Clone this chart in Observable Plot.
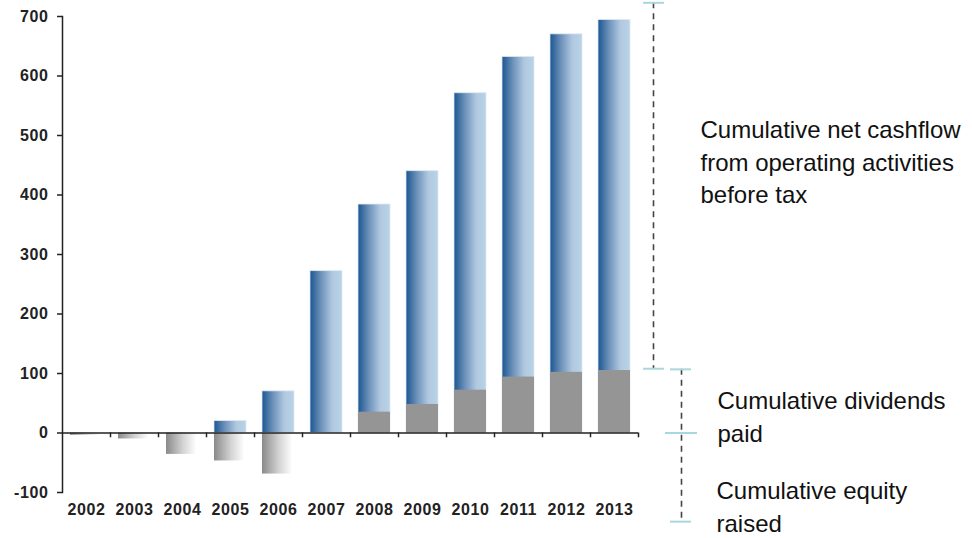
<!DOCTYPE html>
<html><head><meta charset="utf-8">
<script src="https://cdn.jsdelivr.net/npm/d3@7"></script>
<script src="https://cdn.jsdelivr.net/npm/@observablehq/plot@0.6"></script>
<style>
body{margin:0;background:#fff;}
#chart svg{display:block;}
#chart g[aria-label="y-axis tick label"] text, #chart g[aria-label="x-axis tick label"] text{letter-spacing:0.6px;}
</style>
</head><body><div id="chart"></div>
<script>
const years = ["2002","2003","2004","2005","2006","2007","2008","2009","2010","2011","2012","2013"];
const cashflow = [0, 0, 0, 20, 70, 272, 384, 440, 571, 632, 670, 694];
const dividends = [0, 0, 0, 0, 0, 0, 35, 48, 72, 94, 102, 105];
const equity = [-4, -10, -36, -47, -69, 0, 0, 0, 0, 0, 0, 0];
const yTicks = [-100, 0, 100, 200, 300, 400, 500, 600, 700];

// annotation brackets (values in chart units)
const bracketCash = [{from: 723, to: 108}];
const bracketLower = [{from: 107, to: -149}];
const tickCash = [723, 108];
const tickLowerEnds = [107, -149];
const tickLowerMid = [0];
const labelCash = [{y: 458, text: "Cumulative net cashflow\nfrom operating activities\nbefore tax"}];
const labelDiv = [{y: 30, text: "Cumulative dividends\npaid"}];
const labelEq = [{y: -121, text: "Cumulative equity\nraised"}];

const cashRows = years.map((y, i) => ({year: y, value: cashflow[i]})).filter(d => d.value !== 0);
const divRows = years.map((y, i) => ({year: y, value: dividends[i]})).filter(d => d.value !== 0);
const eqRows = years.map((y, i) => ({year: y, value: equity[i]})).filter(d => d.value !== 0);

const last = years[years.length - 1];
const dash = {stroke: "#444", strokeWidth: 1.6, strokeDasharray: "6,5"};
const tickStyle = {stroke: "#a8d8de", strokeWidth: 2};
const textStyle = {fontSize: 24, fill: "#111", textAnchor: "start", lineAnchor: "middle", lineHeight: 1.35, fontFamily: "Liberation Sans, Arial, sans-serif"};

const chart = Plot.plot({
  width: 972, height: 538,
  marginLeft: 62, marginRight: 334, marginTop: 16, marginBottom: 46,
  x: {type: "band", domain: years, paddingInner: 0.33, paddingOuter: 0.165, axis: null, label: null},
  y: {domain: [-100, 700], axis: null, label: null},
  style: {fontFamily: "Liberation Sans, Arial, sans-serif", background: "#fff"},
  marks: [
    Plot.barY(cashRows, {x: "year", y: "value", fill: "url(#gBlue)", stroke: "#dce8f2", strokeWidth: 0.8}),
    Plot.barY(divRows, {x: "year", y: "value", fill: "#959595"}),
    Plot.barY(eqRows, {x: "year", y: "value", fill: "url(#gGrey)"}),
    Plot.ruleY([0], {stroke: "#222", strokeWidth: 1.5}),
    Plot.ruleX(years, {x: d => d, y1: 0, y2: -8, dx: 24, stroke: "#222", strokeWidth: 1.5}),
    Plot.frame({anchor: "left", stroke: "#222", strokeWidth: 1.5}),
    Plot.axisY({ticks: yTicks, tickFormat: d => String(d), label: null, tickSize: 5, tickPadding: 9, fontWeight: "bold", fontSize: 16, stroke: "#222", strokeWidth: 1.5, fill: "#222"}),
    Plot.axisX({tickSize: 0, tickPadding: 11, label: null, fontWeight: "bold", fontSize: 16, fill: "#222"}),
    // annotations
    Plot.ruleX(bracketCash, {x: () => last, y1: "from", y2: "to", dx: 39, ...dash}),
    Plot.ruleX(bracketLower, {x: () => last, y1: "from", y2: "to", dx: 67, ...dash}),
    Plot.tickY(tickCash, {x: () => last, y: d => d, dx: 39.5, insetLeft: 5.5, insetRight: 5.5, ...tickStyle}),
    Plot.tickY(tickLowerEnds, {x: () => last, y: d => d, dx: 66.5, insetLeft: 5.5, insetRight: 5.5, ...tickStyle}),
    Plot.tickY(tickLowerMid, {x: () => last, y: d => d, dx: 67, insetLeft: 0, insetRight: 0, ...tickStyle}),
    Plot.text(labelCash, {x: () => last, y: "y", text: "text", dx: 86, ...textStyle}),
    Plot.text(labelDiv, {x: () => last, y: "y", text: "text", dx: 103, ...textStyle}),
    Plot.text(labelEq, {x: () => last, y: "y", text: "text", dx: 102, ...textStyle})
  ]
});

const svg = d3.select(chart);
const defs = svg.insert("defs", ":first-child");
const gb = defs.append("linearGradient").attr("id", "gBlue").attr("x1", "0").attr("x2", "1").attr("y1", "0").attr("y2", "0");
gb.append("stop").attr("offset", "0%").attr("stop-color", "#1b5592");
gb.append("stop").attr("offset", "35%").attr("stop-color", "#6f93bb");
gb.append("stop").attr("offset", "70%").attr("stop-color", "#b0c9e0");
gb.append("stop").attr("offset", "100%").attr("stop-color", "#bad2e6");
const gg = defs.append("linearGradient").attr("id", "gGrey").attr("x1", "0").attr("x2", "1").attr("y1", "0").attr("y2", "0");
gg.append("stop").attr("offset", "0%").attr("stop-color", "#8a8a8a");
gg.append("stop").attr("offset", "55%").attr("stop-color", "#d6d6d6");
gg.append("stop").attr("offset", "95%").attr("stop-color", "#ffffff");
gg.append("stop").attr("offset", "100%").attr("stop-color", "#ffffff");

document.getElementById("chart").appendChild(chart);
</script>
</body></html>
